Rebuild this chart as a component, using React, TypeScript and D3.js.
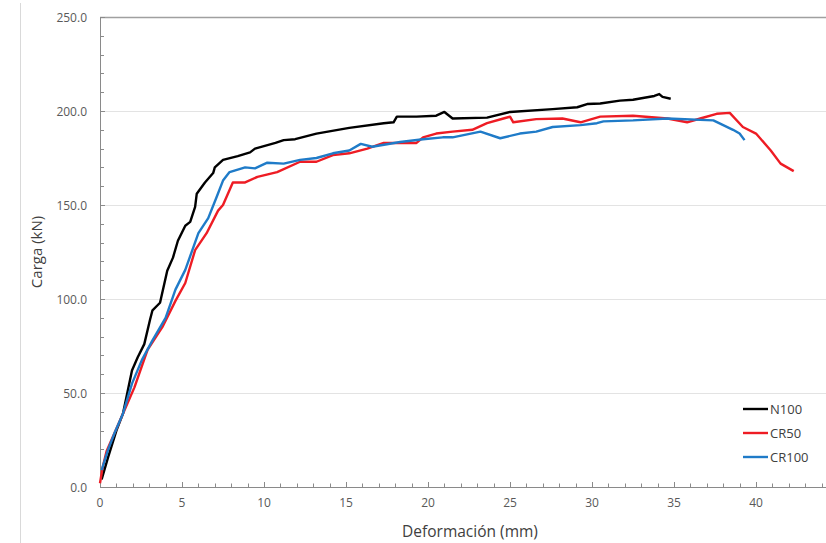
import React, { useEffect, useRef } from 'react';
import * as d3 from 'd3';

type Pt = [number, number];

const seriesNames = ['N100', 'CR50', 'CR100'];
const seriesColors = ['#000000', '#ee1c24', '#1f7bc8'];

// deformación (mm), carga (kN)
const n100: Pt[] = [
  [0.1, 4], [0.5, 16], [1.0, 30], [1.4, 39], [1.95, 62], [2.3, 69], [2.7, 76], [3.05, 89],
  [3.2, 94], [3.66, 98], [4.1, 115], [4.45, 122], [4.75, 131], [5.2, 139], [5.5, 141],
  [5.8, 149], [5.9, 156], [6.4, 162], [6.9, 167], [7.0, 170], [7.5, 174], [8.4, 176],
  [9.15, 178], [9.45, 180], [10.7, 183], [11.2, 184.5], [11.9, 185], [13.2, 188],
  [15.2, 191], [17.3, 193.5], [17.9, 194], [18.1, 197], [19.3, 197], [20.5, 197.5],
  [21.0, 199.5], [21.5, 196], [23.6, 196.5], [25.0, 199.5], [27.6, 201], [29.1, 202],
  [29.7, 203.7], [30.5, 204], [31.7, 205.5], [32.5, 206], [33.8, 208], [34.1, 209],
  [34.3, 207.5], [34.8, 206.5],
];

const cr50: Pt[] = [
  [0.0, 2], [0.15, 10], [0.4, 19], [0.9, 29], [1.4, 39], [2.1, 53], [2.9, 73], [3.8, 85], [4.6, 99],
  [5.2, 108.5], [5.8, 126], [6.5, 135], [7.2, 147], [7.5, 150], [8.1, 162], [8.85, 162],
  [9.6, 165], [10.8, 167.5], [12.2, 173], [13.2, 173], [14.2, 176.5], [15.2, 177.5],
  [16.3, 180], [17.3, 183], [19.3, 183], [19.7, 186], [20.5, 188], [21.5, 189], [22.7, 190],
  [23.6, 193.5], [24.6, 196], [25.0, 197], [25.2, 194], [26.6, 195.7], [28.2, 196],
  [29.3, 194], [30.5, 197], [32.5, 197.5], [34.6, 196], [35.8, 194], [36.6, 196],
  [37.6, 198.5], [38.4, 199], [39.2, 191.5], [40.0, 188], [40.9, 179], [41.5, 172],
  [42.3, 168],
];

const cr100: Pt[] = [
  [0.1, 9], [0.5, 20], [0.9, 29], [1.4, 39], [1.95, 55], [2.55, 67.5], [3.2, 78], [4.0, 90],
  [4.6, 105], [5.2, 115.5], [6.0, 135], [6.6, 143], [7.1, 154], [7.5, 163], [7.9, 167.5],
  [8.85, 170], [9.45, 169.5], [10.2, 172.5], [11.2, 172], [12.2, 174], [13.2, 175],
  [14.2, 177.5], [15.2, 179], [15.9, 182.5], [16.6, 181], [18.3, 183.5], [19.7, 185],
  [20.9, 186], [21.5, 186], [23.2, 189], [24.4, 185.5], [25.6, 188], [26.6, 189],
  [27.6, 191.5], [29.3, 192.5], [30.3, 193.5], [30.7, 194.5], [32.5, 195], [34.6, 196],
  [37.4, 195], [38.0, 192.5], [38.6, 190], [39.0, 188], [39.3, 184.5],
];

const allSeries = [n100, cr50, cr100];

const xTicks = [0, 5, 10, 15, 20, 25, 30, 35, 40];
const yTicks = [0, 50, 100, 150, 200, 250];

const W = 826;
const H = 543;
const font = "'Open Sans', 'Liberation Sans', sans-serif";

export default function App() {
  const ref = useRef<SVGSVGElement>(null);

  useEffect(() => {
    const svg = d3.select(ref.current);
    svg.selectAll('*').remove();

    // axis runs to 45 mm, past the visible right edge
    const x = d3.scaleLinear().domain([0, 45]).range([100, 838]);
    const y = d3.scaleLinear().domain([0, 250]).range([487, 17]);

    // outer chart frame (left edge visible)
    svg.append('line')
      .attr('x1', 20.5).attr('x2', 20.5).attr('y1', 3).attr('y2', H)
      .attr('stroke', '#d9d9d9');

    // gridlines
    svg.append('g').selectAll('line')
      .data(yTicks.filter(t => t > 0 && t < 250))
      .enter().append('line')
      .attr('x1', x(0)).attr('x2', W)
      .attr('y1', d => Math.round(y(d)) + 0.5).attr('y2', d => Math.round(y(d)) + 0.5)
      .attr('stroke', '#e3e3e3');

    // top border
    svg.append('line')
      .attr('x1', x(0)).attr('x2', W)
      .attr('y1', y(250) + 0.5).attr('y2', y(250) + 0.5)
      .attr('stroke', '#a0a0a0').attr('stroke-width', 1.5);

    const axisColor = '#8a8a8a';

    // y axis line + ticks
    svg.append('line')
      .attr('x1', x(0) + 0.5).attr('x2', x(0) + 0.5).attr('y1', y(250)).attr('y2', y(0))
      .attr('stroke', axisColor);
    svg.append('g').selectAll('line')
      .data(d3.range(0, 251, 10))
      .enter().append('line')
      .attr('x1', x(0)).attr('x2', d => x(0) + (d % 50 === 0 ? 5 : 4))
      .attr('y1', d => Math.round(y(d)) + 0.5).attr('y2', d => Math.round(y(d)) + 0.5)
      .attr('stroke', axisColor);

    // x axis line + ticks
    svg.append('line')
      .attr('x1', x(0)).attr('x2', W).attr('y1', y(0) + 0.5).attr('y2', y(0) + 0.5)
      .attr('stroke', axisColor).attr('stroke-width', 1.2);
    svg.append('g').selectAll('line')
      .data(d3.range(0, 45, 1))
      .enter().append('line')
      .attr('x1', d => Math.round(x(d)) + 0.5).attr('x2', d => Math.round(x(d)) + 0.5)
      .attr('y1', y(0)).attr('y2', d => y(0) - (d % 5 === 0 ? 5 : 3.5))
      .attr('stroke', axisColor);

    // tick labels
    svg.append('g').selectAll('text')
      .data(yTicks)
      .enter().append('text')
      .attr('x', x(0) - 13).attr('y', d => y(d) + 4.5)
      .attr('text-anchor', 'end')
      .attr('font-family', font).attr('font-size', 12).attr('fill', '#595959')
      .text(d => d.toFixed(1));
    svg.append('g').selectAll('text')
      .data(xTicks)
      .enter().append('text')
      .attr('x', d => x(d)).attr('y', y(0) + 20)
      .attr('text-anchor', 'middle')
      .attr('font-family', font).attr('font-size', 12).attr('fill', '#595959')
      .text(d => String(d));

    // axis titles
    svg.append('text')
      .attr('transform', `translate(42,${(y(0) + y(250)) / 2}) rotate(-90)`)
      .attr('text-anchor', 'middle')
      .attr('font-family', font).attr('font-size', 15).attr('fill', '#404040')
      .text('Carga (kN)');
    svg.append('text')
      .attr('x', 470).attr('y', 537)
      .attr('text-anchor', 'middle')
      .attr('font-family', font).attr('font-size', 15.5).attr('fill', '#404040')
      .text('Deformación (mm)');

    // series
    const line = d3.line<Pt>().x(d => x(d[0])).y(d => y(d[1])).curve(d3.curveLinear);
    svg.append('g').selectAll('path')
      .data(allSeries)
      .enter().append('path')
      .attr('d', d => line(d))
      .attr('fill', 'none')
      .attr('stroke', (_d, i) => seriesColors[i])
      .attr('stroke-width', 2.4)
      .attr('stroke-linejoin', 'round');

    // legend
    const lg = svg.append('g').selectAll('g')
      .data(seriesNames)
      .enter().append('g')
      .attr('transform', (_d, i) => `translate(743,${409 + i * 24})`);
    lg.append('line')
      .attr('x1', 0).attr('x2', 25).attr('y1', 0).attr('y2', 0)
      .attr('stroke', (_d, i) => seriesColors[i]).attr('stroke-width', 2.4);
    lg.append('text')
      .attr('x', 27).attr('y', 4.5)
      .attr('font-family', font).attr('font-size', 13).attr('fill', '#404040')
      .text(d => d);
  }, []);

  return (
    <svg ref={ref} width={W} height={H}
      style={{ position: 'absolute', left: 0, top: 0, background: '#fff' }} />
  );
}
